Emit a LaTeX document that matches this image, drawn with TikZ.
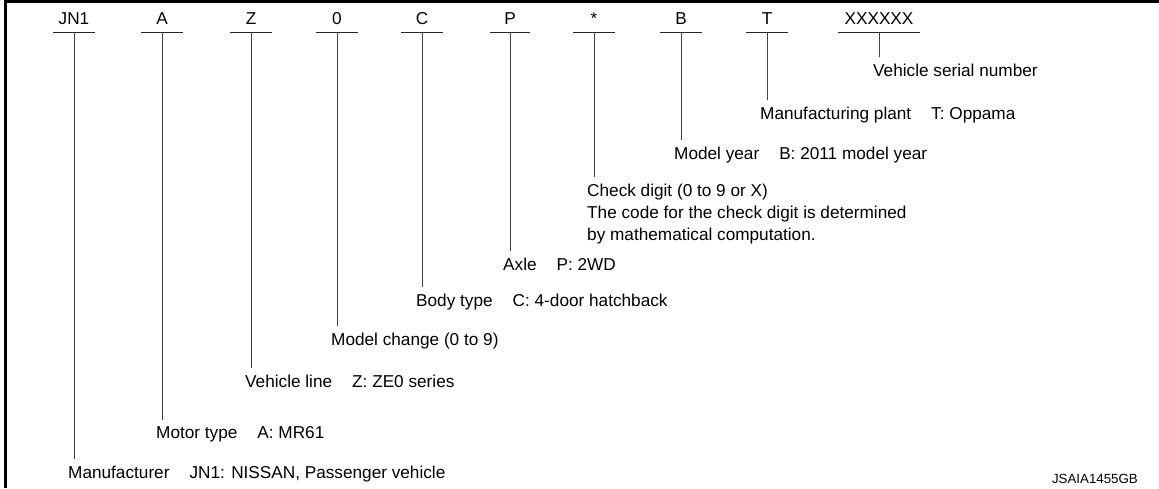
\documentclass[tikz,border=0pt]{standalone}
\usepackage{fontspec}
\setmainfont{Liberation Sans}
\newcommand{\labfont}{\fontsize{17.2}{22}\selectfont}
\newcommand{\smallfont}{\fontsize{13.3}{15}\selectfont}
\newcommand{\gapp}{\hspace{20pt}}
\begin{document}
\begin{tikzpicture}[x=1pt,y=-1pt,
  codetxt/.style={font=\labfont, inner sep=0pt, anchor=base},
  lbl/.style={font=\labfont, inner sep=0pt, anchor=base west, align=left},
  bar/.style={line width=1pt, draw=black!85},
  lead/.style={line width=1pt, draw=black!75},
  frame/.style={line width=3pt, draw=black}]
\useasboundingbox (0,0) rectangle (1159,488);
\draw[frame] (5.5,488) -- (5.5,1.5) -- (1159,1.5);

% code letters
\foreach \n/\x/\t/\w in {c1/74/JN1/21, c2/162/A/21, c3/251/Z/21, c4/337/0/21, c5/422/C/21,
  c6/510/P/20, c7/594/*/21, c8/681/B/21, c9/767/T/21, c10/879/XXXXXX/41} {
  \node[codetxt] (\n) at (\x,24) {\t};
  \coordinate (\n l) at (\x-\w,32);
  \coordinate (\n r) at (\x+\w,32);
  \coordinate (\n b) at (\x,32);
  \draw[bar] (\n l) -- (\n r);
}

% labels
\node[lbl] (m1) at (68,478) {Manufacturer\gapp JN1: NISSAN, Passenger vehicle};
\node[lbl] (m2) at (156,438) {Motor type\gapp A: MR61};
\node[lbl] (m3) at (245,387) {Vehicle line\gapp Z: ZE0 series};
\node[lbl] (m4) at (331,345) {Model change (0 to 9)};
\node[lbl] (m5) at (416,306) {Body type\gapp C: 4-door hatchback};
\node[lbl] (m6) at (503,270) {Axle\gapp P: 2WD};
\node[lbl] (m7) at (587,240) {Check digit (0 to 9 or X)\\The code for the check digit is determined\\by mathematical computation.};
\node[lbl] (m8) at (674,159) {Model year\gapp B: 2011 model year};
\node[lbl] (m9) at (760,119) {Manufacturing plant\gapp T: Oppama};
\node[lbl] (m10) at (873,76) {Vehicle serial number};

\node[font=\smallfont, inner sep=0pt, anchor=base east] (id) at (1138,483) {JSAIA1455GB};

% leaders
\foreach \i in {1,...,10} {
  \draw[lead] (c\i b) -- ([yshift=6pt]c\i b |- m\i.north);
}
\end{tikzpicture}
\end{document}
